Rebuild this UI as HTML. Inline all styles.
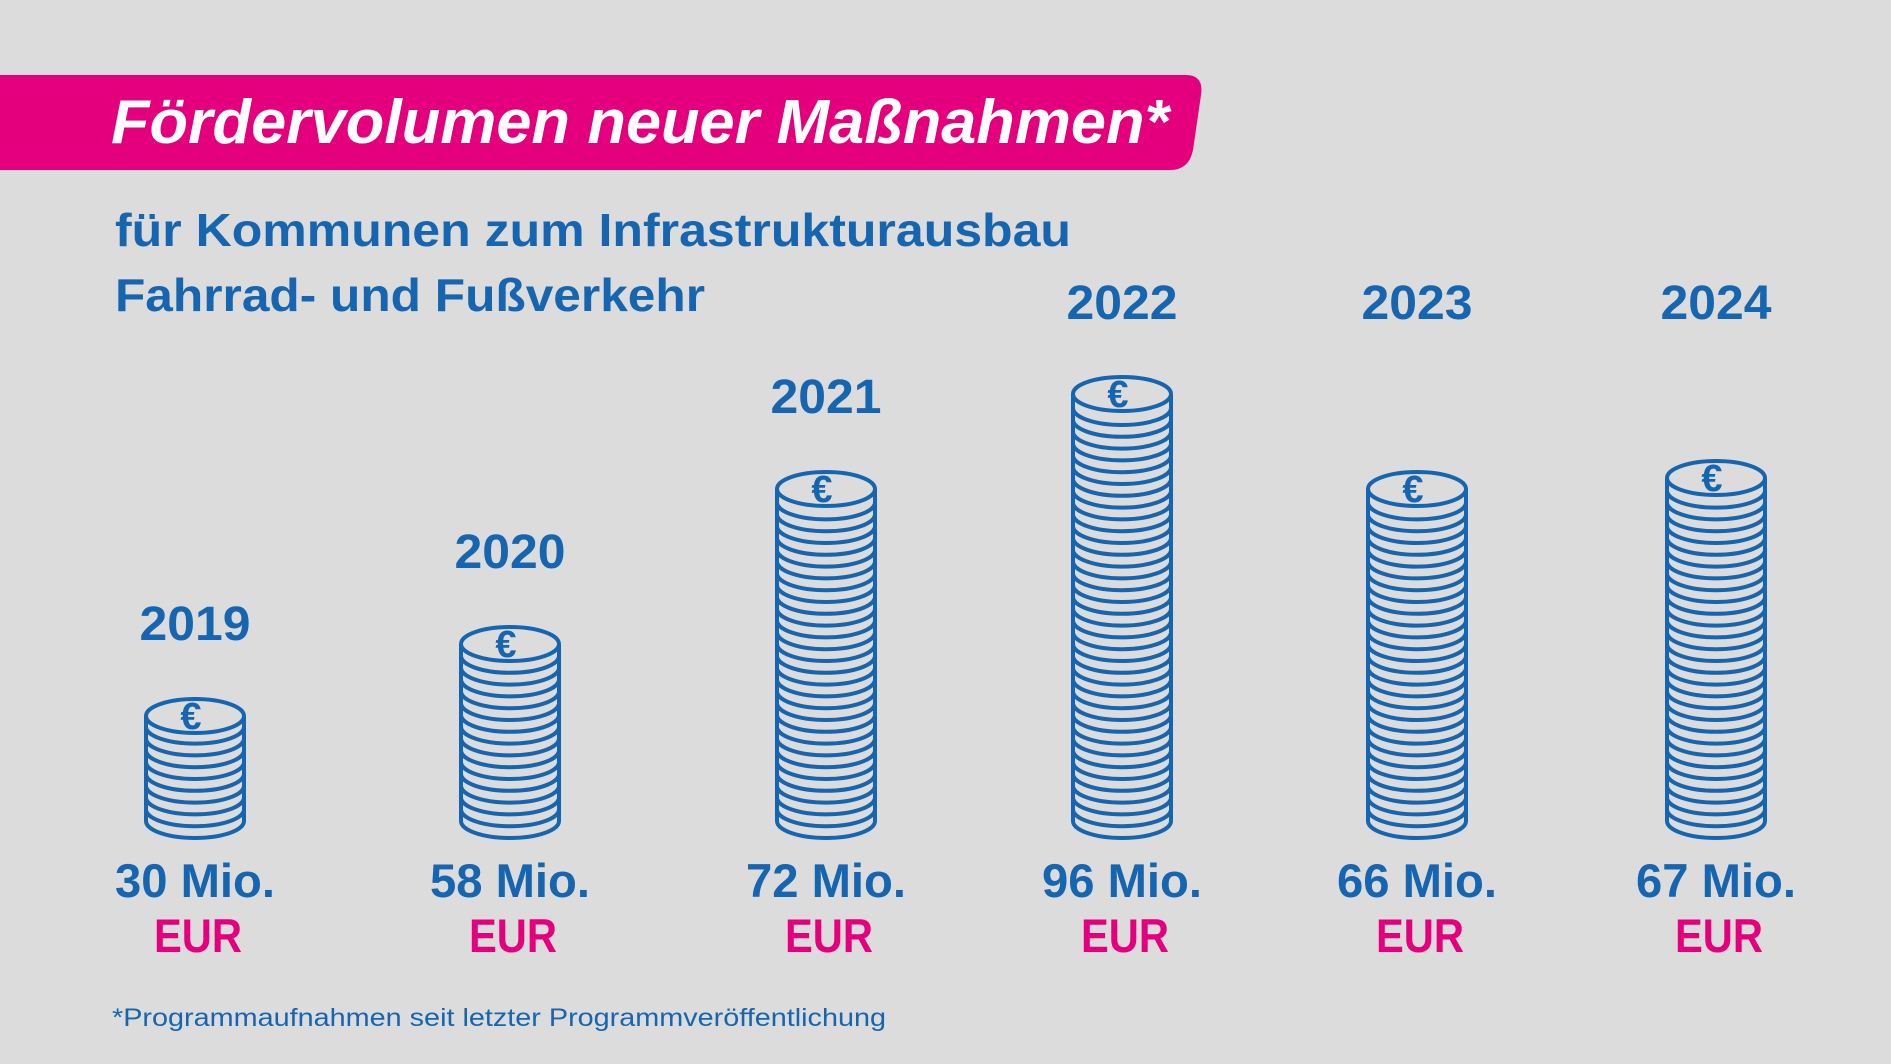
<!DOCTYPE html>
<html><head><meta charset="utf-8"><style>
html,body{margin:0;padding:0;background:#dcdcdc}
svg{display:block}
text{font-family:"Liberation Sans",sans-serif;font-weight:bold}
</style></head><body>
<svg id="s" width="1891" height="1064" viewBox="0 0 1891 1064" xmlns="http://www.w3.org/2000/svg">
<rect x="0" y="0" width="1891" height="1064" fill="#dcdcdc"/>
<path d="M0 75 H1186 Q1204 75 1201 95 L1193 150 Q1189 170 1170 170 H0 Z" fill="#e4007c"/>
<text x="111" y="143" font-size="62" font-style="italic" fill="#fff" textLength="1058" lengthAdjust="spacingAndGlyphs">Fördervolumen neuer Maßnahmen*</text>
<text x="115" y="246" font-size="46" fill="#1665b0" textLength="956" lengthAdjust="spacingAndGlyphs">für Kommunen zum Infrastrukturausbau</text>
<text x="115" y="311" font-size="46" fill="#1665b0" textLength="590" lengthAdjust="spacingAndGlyphs">Fahrrad- und Fußverkehr</text>
<text x="112" y="1026" font-size="25" style="font-weight:normal" fill="#1665b0" textLength="774" lengthAdjust="spacingAndGlyphs">*Programmaufnahmen seit letzter Programmveröffentlichung</text>
<g id="g"></g>
</svg>
<script>
var data=[[195,699,"2019",623,"30 Mio."],[510,627,"2020",551,"58 Mio."],[826,472,"2021",396,"72 Mio."],[1122,377,"2022",302,"96 Mio."],[1417,472,"2023",302,"66 Mio."],[1716,461,"2024",302,"67 Mio."]];
var B="#1665b0",P="#e4007c",h="";
data.forEach(function(d){
 var cx=d[0],top=d[1],rx=49,ry=17,bot=838;
 var cy=top+ry;
 h+='<ellipse cx="'+cx+'" cy="'+cy+'" rx="'+rx+'" ry="'+ry+'" fill="none" stroke="'+B+'" stroke-width="4"/>';
 h+='<line x1="'+(cx-rx)+'" y1="'+cy+'" x2="'+(cx-rx)+'" y2="'+(bot-ry)+'" stroke="'+B+'" stroke-width="4"/>';
 h+='<line x1="'+(cx+rx)+'" y1="'+cy+'" x2="'+(cx+rx)+'" y2="'+(bot-ry)+'" stroke="'+B+'" stroke-width="4"/>';
 for(var y=bot-ry;y>cy+6;y-=11.8){
  h+='<path d="M'+(cx-rx)+' '+y+' A'+rx+' '+ry+' 0 0 0 '+(cx+rx)+' '+y+'" fill="none" stroke="'+B+'" stroke-width="4"/>';
 }
 h+='<text x="'+(cx-4)+'" y="'+(cy+13)+'" font-size="38" text-anchor="middle" fill="'+B+'">€</text>';
 h+='<text x="'+cx+'" y="'+(d[3]+17)+'" font-size="48" text-anchor="middle" fill="'+B+'" textLength="111" lengthAdjust="spacingAndGlyphs">'+d[2]+'</text>';
 h+='<text x="'+cx+'" y="'+897+'" font-size="47" text-anchor="middle" fill="'+B+'" textLength="160" lengthAdjust="spacingAndGlyphs">'+d[4]+'</text>';
 h+='<text x="'+(cx+3)+'" y="'+952+'" font-size="47" text-anchor="middle" fill="'+P+'" textLength="88" lengthAdjust="spacingAndGlyphs">EUR</text>';
});
document.getElementById("g").innerHTML=h;
</script>
</body></html>
